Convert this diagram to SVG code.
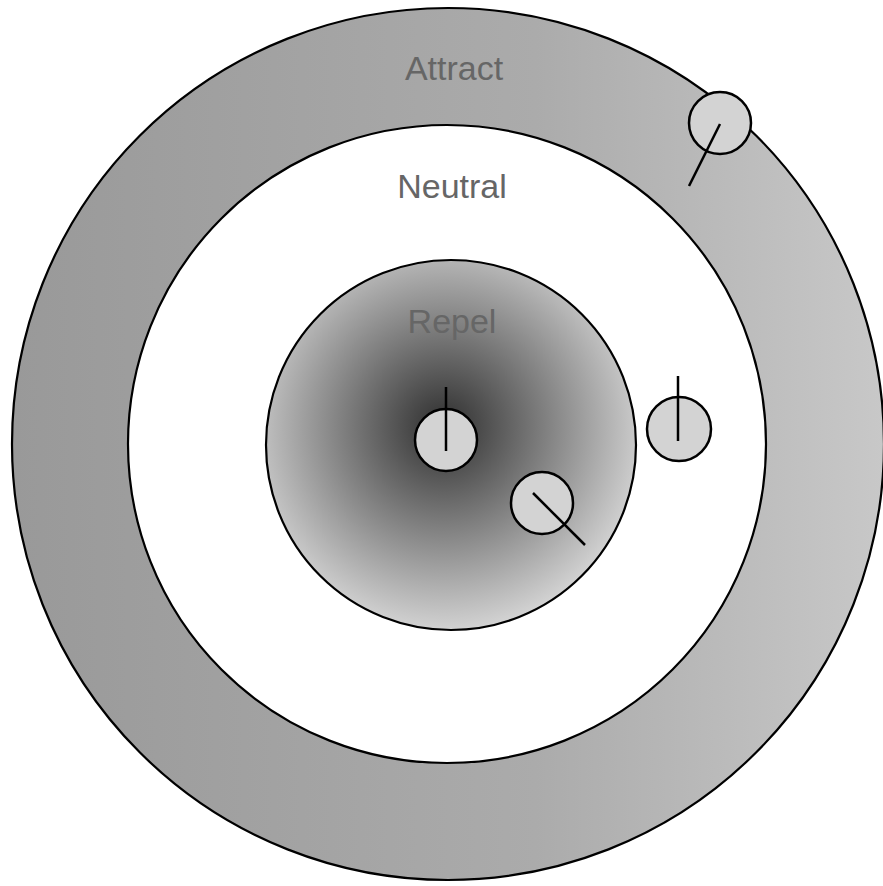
<svg xmlns="http://www.w3.org/2000/svg" width="883" height="886" viewBox="0 0 883 886">
  <defs>
    <linearGradient id="ringGrad" x1="0" y1="0" x2="1" y2="0">
      <stop offset="0" stop-color="#999999"/>
      <stop offset="0.6" stop-color="#ababab"/>
      <stop offset="1" stop-color="#c8c8c8"/>
    </linearGradient>
    <radialGradient id="repelGrad" cx="0.48" cy="0.45" r="0.55">
      <stop offset="0" stop-color="#2e2e2e"/>
      <stop offset="1" stop-color="#d2d2d2"/>
    </radialGradient>
  </defs>
  <style>
    .zone { stroke: #000; stroke-width: 2.2; }
    .agent { fill: #d3d3d3; stroke: #000; stroke-width: 2.5; }
    .dir { stroke: #000; stroke-width: 2.5; fill: none; }
    .label { font-family: "Liberation Sans", Arial, sans-serif; font-size: 34px; fill: #666666; text-anchor: middle; }
  </style>
  <g id="attract">
    <circle class="zone" cx="448" cy="444" r="436" fill="url(#ringGrad)"/>
    <text class="label" x="454" y="80">Attract</text>
  </g>
  <g id="neutral">
    <circle class="zone" cx="447" cy="444" r="319" fill="#ffffff"/>
    <text class="label" x="452" y="198">Neutral</text>
  </g>
  <g id="repel">
    <circle class="zone" cx="451" cy="445" r="185" fill="url(#repelGrad)"/>
    <text class="label" x="452" y="333">Repel</text>
  </g>
  <g id="agent1">
    <circle class="agent" cx="446" cy="440" r="31"/>
  </g>
  <g id="agent2">
    <circle class="agent" cx="542" cy="503" r="31"/>
  </g>
  <g id="agent3">
    <circle class="agent" cx="679" cy="429" r="32"/>
  </g>
  <g id="agent4">
    <circle class="agent" cx="720" cy="123" r="31"/>
  </g>
  <g id="connectors">
    <line class="dir" x1="446" y1="387" x2="446" y2="451"/>
    <line class="dir" x1="533" y1="493" x2="585" y2="545"/>
    <line class="dir" x1="678" y1="376" x2="678" y2="441"/>
    <line class="dir" x1="720" y1="124" x2="689" y2="186"/>
  </g>
</svg>
